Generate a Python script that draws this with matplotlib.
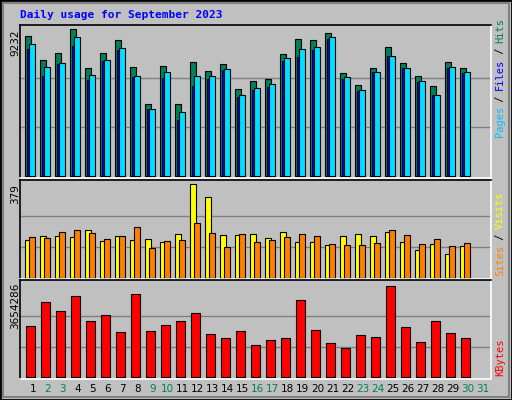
import numpy as np
import matplotlib.pyplot as plt
from matplotlib.patches import Rectangle

days = np.arange(1, 32)
weekend = [2, 3, 9, 10, 16, 17, 23, 24, 30, 31]

hits = [8812, 7302, 7742, 9232, 6798, 7742, 8561, 6861, 4532, 6924, 4532, 7176, 6609, 7050, 5476,
        5980, 6106, 7679, 8624, 8561, 9001, 6483, 5728, 6798, 8120, 7113, 6295, 5665, 7176, 6798]
files = [8309, 6861, 7113, 8749, 6357, 7302, 8057, 6295, 4217, 6546, 4028, 6295, 6295, 6735, 5098,
         5539, 5791, 7427, 7994, 8120, 8749, 6231, 5413, 6546, 7553, 6798, 5980, 5098, 6861, 6546]
pages = [7994, 6295, 7050, 8183, 6043, 7239, 7931, 6231, 4217, 6169, 3525, 5665, 6106, 6672, 4973,
         5413, 5602, 7239, 7490, 7931, 8624, 6106, 5350, 6546, 7553, 6798, 5917, 5098, 6798, 6483]
sites = [154, 170, 170, 166, 195, 150, 170, 154, 158, 146, 179, 379, 326, 174, 174,
         179, 162, 187, 146, 146, 134, 170, 179, 170, 187, 146, 113, 138, 97, 129]
visits = [166, 162, 187, 195, 183, 158, 170, 207, 121, 150, 154, 224, 183, 125, 179,
          146, 154, 166, 179, 170, 138, 134, 134, 142, 195, 174, 138, 158, 129, 142]
kbytes = [2067, 2987, 2667, 3228, 2267, 2507, 1827, 3308, 1867, 2107, 2267, 2587, 1747, 1587, 1867,
          1307, 1507, 1587, 3068, 1907, 1387, 1187, 1707, 1627, 3654, 2027, 1427, 2267, 1787, 1587]
kbytes = [k * 1000 for k in kbytes]
kb_max = 3654286

W, H = 512, 400
fig = plt.figure(figsize=(W / 100, H / 100), dpi=100)
fig.patch.set_facecolor('#C0C0C0')
mono = 'DejaVu Sans Mono'

# outer border
fig.add_artist(Rectangle((0, 0), 1, 1, transform=fig.transFigure, fill=False, edgecolor='black', lw=2))
fig.add_artist(Rectangle((3 / W, 3 / H), 1 - 6 / W, 1 - 6 / H, transform=fig.transFigure,
                         fill=False, edgecolor='#808080', lw=1.5))


def panel(y_top, y_bot):
    ax = fig.add_axes([20 / W, 1 - y_bot / H, 471 / W, (y_bot - y_top) / H])
    ax.set_facecolor('#C0C0C0')
    ax.set_xlim(0.5, 31.9)
    ax.set_xticks([])
    ax.set_yticks([])
    for s in ['left', 'top']:
        ax.spines[s].set_color('black')
    for s in ['right', 'bottom']:
        ax.spines[s].set_color('white')
    for sp in ax.spines.values():
        sp.set_linewidth(1.2)
    return ax


x = np.arange(1, 31)
ew = 0.8

# top panel
ax1 = panel(25, 178)
ax1.set_ylim(-9232 * 2 / 147, 9232 * 151 / 147)
for g in [9232 / 3, 9232 * 2 / 3]:
    ax1.axhline(g, color='#808080', lw=1, zorder=0)
ax1.bar(x - 0.17, hits, width=0.4, align='edge', color='#00805C', edgecolor='black', lw=ew)
ax1.bar(x + 0.1, files, width=0.4, align='edge', color='#00E0FF', edgecolor='black', lw=ew, zorder=3)
ax1.bar(x - 0.05, pages, width=0.13, align='edge', color='#0000FF', edgecolor='black', lw=0.6, zorder=2)

# middle panel
ax2 = panel(180, 279)
ax2.set_ylim(-379 * 1 / 92.7, 379 * 97 / 92.7)
for g in [379 / 3, 379 * 2 / 3]:
    ax2.axhline(g, color='#808080', lw=1, zorder=0)
ax2.bar(x - 0.17, sites, width=0.4, align='edge', color='#FFFF00', edgecolor='black', lw=ew)
ax2.bar(x + 0.1, visits, width=0.4, align='edge', color='#FF8000', edgecolor='black', lw=ew)

# bottom panel
ax3 = panel(280, 379)
ax3.set_ylim(-kb_max * 1.5 / 91.3, kb_max * 97 / 91.3)
for g in [kb_max / 3, kb_max * 2 / 3]:
    ax3.axhline(g, color='#808080', lw=1, zorder=0)
ax3.bar(x - 0.1, kbytes, width=0.6, align='edge', color='#FF0000', edgecolor='black', lw=ew)

# day labels
for d in days:
    fig.text((20 + (d - 0.5 + 0.35) * 15) / W, 1 - 389 / H, str(d), ha='center', va='center',
             fontsize=7.5, color='#00805C' if d in weekend else 'black')

# title
fig.text(20 / W, 1 - 15 / H, 'Daily usage for September 2023', fontfamily=mono, fontweight='bold',
         fontsize=8, color='#0000FF', va='center')

# left max labels
for label, y in [('9232', 29), ('379', 184), ('3654286', 283)]:
    fig.text(15 / W, 1 - y / H, label, rotation=90, ha='center', va='top', fontsize=7.5)

# right legends
def side(parts, y_start):
    y = y_start
    for txt, col in parts:
        fig.text(500 / W, 1 - y / H, txt, rotation=90, ha='center', va='bottom',
                 fontfamily=mono, fontsize=7.5, color=col)
        y -= len(txt) * 5.9


side([('Pages', '#00C0FF'), (' / ', 'black'), ('Files', '#0000FF'), (' / ', 'black'), ('Hits', '#00805C')], 137)
side([('Sites', '#FF8000'), (' / ', 'black'), ('Visits', '#FFFF00')], 276)
side([('KBytes', '#FF0000')], 376)

fig.savefig('out.png', dpi=100, facecolor=fig.get_facecolor())
